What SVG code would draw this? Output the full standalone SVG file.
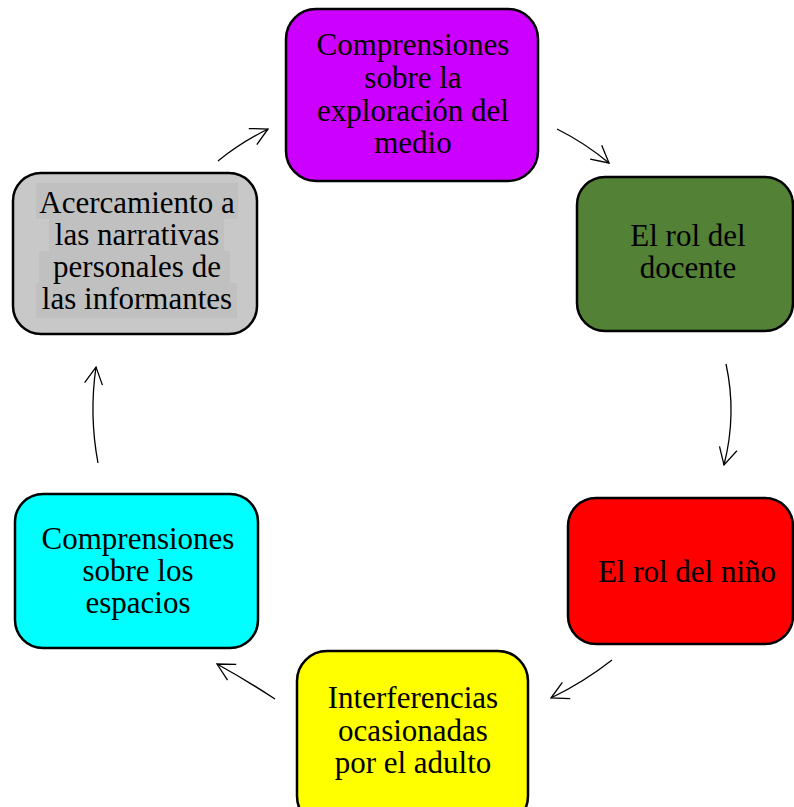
<svg xmlns="http://www.w3.org/2000/svg" width="794" height="807" viewBox="0 0 794 807">
<style>
.box{stroke:#000;stroke-width:2.5}
.t{font-family:"Liberation Serif","Times New Roman",serif;font-size:31px;fill:#000;text-anchor:middle}
.c{fill:none;stroke:#000;stroke-width:1.3}
</style>
<defs>
<marker id="ah" viewBox="-20 -12 22 24" refX="0" refY="0" markerWidth="22" markerHeight="24" markerUnits="userSpaceOnUse" orient="auto">
<path d="M-17,-9 L0,0 L-17,9" fill="none" stroke="#000" stroke-width="1.3"/>
</marker>
</defs>
<rect width="794" height="807" fill="#fff"/>
<g id="connectors">
<path class="c" d="M218,161 Q240,143 268,129" marker-end="url(#ah)"/>
<path class="c" d="M557,129 Q585,143 609,163" marker-end="url(#ah)"/>
<path class="c" d="M726,364 Q737,414 724,465" marker-end="url(#ah)"/>
<path class="c" d="M612,660 Q584,682 551,698" marker-end="url(#ah)"/>
<path class="c" d="M275,699 Q246,680 217,664" marker-end="url(#ah)"/>
<path class="c" d="M98,463 Q89,415 96,367" marker-end="url(#ah)"/>
</g>
<g id="n-comprensiones-medio">
<rect class="box" x="286" y="9" width="252" height="172" rx="30" fill="#CC00FF"/>
<text class="t" x="413" y="55">Comprensiones</text>
<text class="t" x="413" y="88">sobre la</text>
<text class="t" x="413" y="121">exploración del</text>
<text class="t" x="413" y="153">medio</text>
</g>
<g id="n-rol-docente">
<rect class="box" x="577" y="177" width="216" height="154" rx="28" fill="#538135"/>
<text class="t" x="688" y="246">El rol del</text>
<text class="t" x="688" y="278">docente</text>
</g>
<g id="n-rol-nino">
<rect class="box" x="568" y="498" width="225" height="146" rx="28" fill="#FF0000"/>
<text class="t" x="687" y="582">El rol del niño</text>
</g>
<g id="n-interferencias">
<rect class="box" x="297" y="651" width="231" height="175" rx="30" fill="#FFFF00"/>
<text class="t" x="413" y="708">Interferencias</text>
<text class="t" x="413" y="741">ocasionadas</text>
<text class="t" x="413" y="773">por el adulto</text>
</g>
<g id="n-comprensiones-espacios">
<rect class="box" x="15" y="494" width="243" height="154" rx="28" fill="#00FFFF"/>
<text class="t" x="138" y="549">Comprensiones</text>
<text class="t" x="138" y="581">sobre los</text>
<text class="t" x="138" y="613">espacios</text>
</g>
<g id="n-acercamiento">
<rect class="box" x="13" y="173" width="244" height="161" rx="28" fill="#C8C8C8"/>
<g fill="#C0C0C0">
<rect x="36" y="183" width="202" height="36"/>
<rect x="49" y="219" width="175" height="32"/>
<rect x="39" y="251" width="191" height="32"/>
<rect x="36" y="283" width="201" height="35"/>
</g>
<text class="t" x="137" y="213">Acercamiento a</text>
<text class="t" x="137" y="245">las narrativas</text>
<text class="t" x="137" y="277">personales de</text>
<text class="t" x="137" y="309">las informantes</text>
</g>
</svg>
